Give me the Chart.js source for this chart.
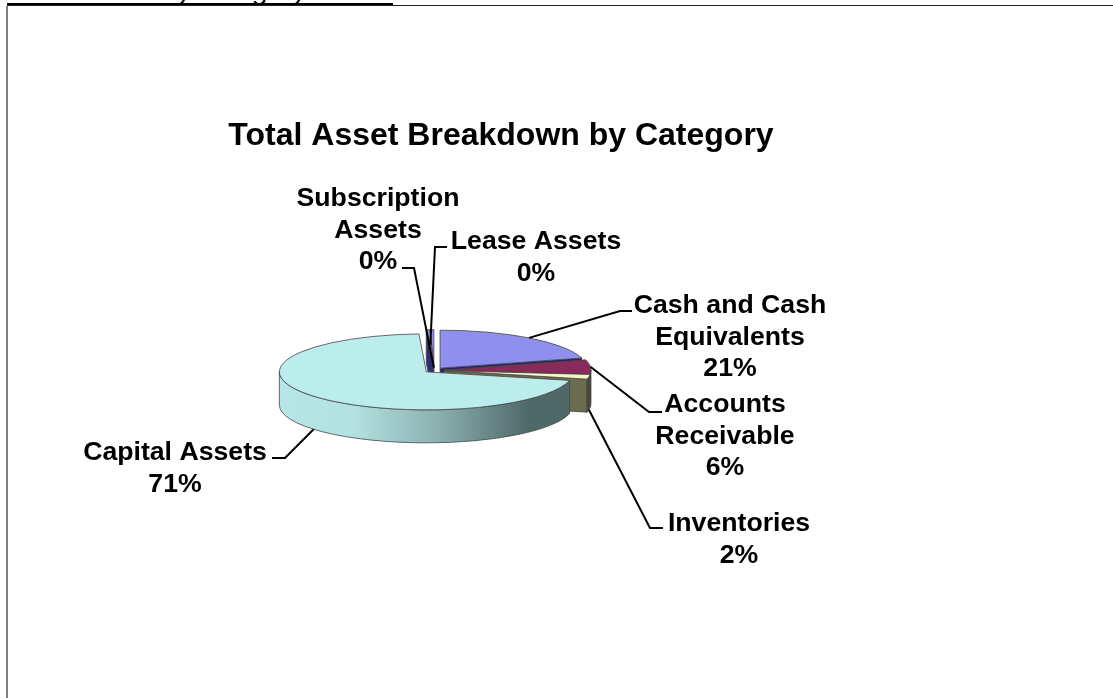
<!DOCTYPE html>
<html>
<head>
<meta charset="utf-8">
<title>Total Asset Breakdown by Category</title>
<script src="https://cdn.jsdelivr.net/npm/chart.js@4/dist/chart.umd.js"></script>
<style>
    html, body { margin: 0; padding: 0; background: #fff; overflow: hidden; }
    #page { position: relative; width: 1113px; height: 698px; overflow: hidden; }
    #heading {
        position: absolute; left: 7px; top: -24px; width: 386px; height: 27px;
        border-bottom: 2px solid #000; white-space: nowrap;
        font: italic 28px "Liberation Sans", Arial, sans-serif; line-height: 28px; color: #000;
    }
    #frame-top { position: absolute; left: 7px; right: 0; top: 5px; height: 1px; background: #222; }
    #frame-left { position: absolute; left: 6px; top: 6px; bottom: 0; width: 2px; background: #808080; }
    #assetChart { position: absolute; left: 0; top: 0; }
</style>
</head>
<body>
<div id="page">
    <div id="heading">Total assets by category 2023</div>
    <div id="frame-top"></div>
    <div id="frame-left"></div>
    <canvas id="assetChart" width="1002" height="698"></canvas>
</div>
<script>
const categories = ["Cash and Cash Equivalents", "Accounts Receivable", "Inventories", "Capital Assets", "Lease Assets", "Subscription Assets"];
const assetShares = [20.7, 5.9, 2.0, 70.6, 0.4, 0.4];

const topColors = ["#8f8fef", "#8a2a5c", "#f4f4c4", "#bbeded", "#8f8fef", "#8f8fef"];
const endFaceColors = ["#24245e", "#4a1833", "#6c6b50", "#bbeded", "#2e2e70", "#2e2e70"];
const rimColors = ["#3a3a80", "#4a1833", "#4a4a37", "#bbeded", "#3a3a80", "#3a3a80"];

// label text and where it sits, with the leader drawn from the slice to the elbow points
const labelLayout = [
    { lines: ["Cash and Cash", "Equivalents"], x: 730, y: 313, rf: 1, drop: false, elbow: [[620, 311], [632, 311]] },
    { lines: ["Accounts", "Receivable"], x: 725, y: 412, rf: 1, drop: false, elbow: [[649, 412], [662, 412]] },
    { lines: ["Inventories"], x: 739, y: 531, rf: 1, drop: true, elbow: [[650, 528], [663, 528]] },
    { lines: ["Capital Assets"], x: 175, y: 460, rf: 1, drop: true, elbow: [[285, 458], [272, 458]] },
    { lines: ["Lease Assets"], x: 536, y: 249, rf: 0.6, drop: false, elbow: [[435, 247], [447, 247]] },
    { lines: ["Subscription", "Assets"], x: 378, y: 206, rf: 0, drop: false, elbow: [[414, 268], [402, 268]] }
];

const squash = 38 / 147;   // top face flattened to an ellipse
const depth = 33;          // height of the pie wall in pixels
const explode = 10;        // every slice is pulled out this far

const arcGeometry = (arc) => {
    const mid = (arc.startAngle + arc.endAngle) / 2;
    return {
        ax: arc.x + Math.cos(mid) * explode,
        ay: arc.y + Math.sin(mid) * explode,
        r: arc.outerRadius,
        mid: mid
    };
};

const pie3d = {
    id: "pie3d",
    beforeDraw(chart) {
        // the title sits right of the pie centre, not over it
        chart.titleBlock.left = 67;
        chart.titleBlock.right = 935;
    },
    beforeDatasetsDraw(chart) {
        const ctx = chart.ctx;
        const arcs = chart.getDatasetMeta(0).data;
        const cy = arcs[0].y;
        const wall = depth / squash;

        const flat = (fn) => {
            ctx.save();
            ctx.translate(0, cy);
            ctx.scale(1, squash);
            ctx.translate(0, -cy);
            fn();
            ctx.restore();
        };
        // build the path flattened, fill and stroke it unflattened so the line stays even
        const face = (fill, build) => {
            flat(() => { ctx.beginPath(); build(); ctx.closePath(); });
            ctx.fillStyle = fill;
            ctx.fill();
            ctx.strokeStyle = "rgba(70, 70, 70, 0.8)";
            ctx.lineWidth = 1;
            ctx.stroke();
        };

        // Capital Assets wall fades from light to dark going right
        const wallFade = ctx.createLinearGradient(278, 0, 572, 0);
        wallFade.addColorStop(0, "#b6e6e6");
        wallFade.addColorStop(0.25, "#b4e2e2");
        wallFade.addColorStop(0.55, "#8aafaf");
        wallFade.addColorStop(0.85, "#4f6969");
        wallFade.addColorStop(1, "#4f6969");

        // paint back slices first
        const order = arcs.map((arc, i) => i).sort((a, b) =>
            Math.sin(arcGeometry(arcs[a]).mid) - Math.sin(arcGeometry(arcs[b]).mid));

        order.forEach((i) => {
            const arc = arcs[i];
            const g = arcGeometry(arc);
            const a0 = arc.startAngle;
            const a1 = arc.endAngle;
            const radial = (a) => {
                ctx.moveTo(g.ax, g.ay);
                ctx.lineTo(g.ax + g.r * Math.cos(a), g.ay + g.r * Math.sin(a));
                ctx.lineTo(g.ax + g.r * Math.cos(a), g.ay + g.r * Math.sin(a) + wall);
                ctx.lineTo(g.ax, g.ay + wall);
            };
            if (Math.sin(a1 + Math.PI / 2) > 0) {
                face(endFaceColors[i], () => radial(a1));
            }
            if (Math.sin(a0 - Math.PI / 2) > 0) {
                face(endFaceColors[i], () => radial(a0));
            }
            const from = Math.max(a0, 0);
            const to = Math.min(a1, Math.PI);
            if (to > from) {
                face(i === 3 ? wallFade : rimColors[i], () => {
                    ctx.arc(g.ax, g.ay, g.r, from, to);
                    ctx.arc(g.ax, g.ay + wall, g.r, to, from, true);
                });
            }
            flat(() => {
                ctx.translate(g.ax - arc.x, g.ay - arc.y);
                arc.draw(ctx, chart.chartArea);
            });
            face("rgba(0, 0, 0, 0)", () => {
                ctx.moveTo(g.ax, g.ay);
                ctx.arc(g.ax, g.ay, g.r, a0, a1);
            });
        });
        return false;
    },
    afterDraw(chart) {
        const ctx = chart.ctx;
        const arcs = chart.getDatasetMeta(0).data;
        const cy = arcs[0].y;
        ctx.save();
        ctx.strokeStyle = "#000";
        ctx.lineWidth = 2;
        ctx.fillStyle = "#000";
        ctx.font = 'bold 26.67px "Liberation Sans", Arial, sans-serif';
        ctx.textAlign = "center";
        ctx.textBaseline = "alphabetic";
        labelLayout.forEach((item, i) => {
            const g = arcGeometry(arcs[i]);
            const sx = g.ax + g.r * item.rf * Math.cos(g.mid);
            const sy = cy + (g.ay + g.r * item.rf * Math.sin(g.mid) - cy) * squash + (item.drop ? depth : 0);
            ctx.beginPath();
            ctx.moveTo(sx, sy);
            item.elbow.forEach((p) => ctx.lineTo(p[0], p[1]));
            ctx.stroke();
            const lines = item.lines.concat([Math.round(assetShares[i]) + "%"]);
            lines.forEach((line, n) => ctx.fillText(line, item.x, item.y + n * 31.5));
        });
        ctx.restore();
    }
};

new Chart(document.getElementById("assetChart"), {
    type: "pie",
    data: {
        labels: categories,
        datasets: [{
            data: assetShares,
            backgroundColor: topColors,
            borderWidth: 0,
            radius: 147
        }]
    },
    options: {
        responsive: false,
        animation: false,
        events: [],
        layout: { padding: { top: 117, right: 134, bottom: 113 } },
        plugins: {
            legend: { display: false },
            tooltip: { enabled: false },
            title: {
                display: true,
                text: "Total Asset Breakdown by Category",
                color: "#000",
                padding: 0,
                font: { family: '"Liberation Sans", Arial, sans-serif', size: 32, weight: "bold" }
            }
        }
    },
    plugins: [pie3d]
});
</script>
</body>
</html>
